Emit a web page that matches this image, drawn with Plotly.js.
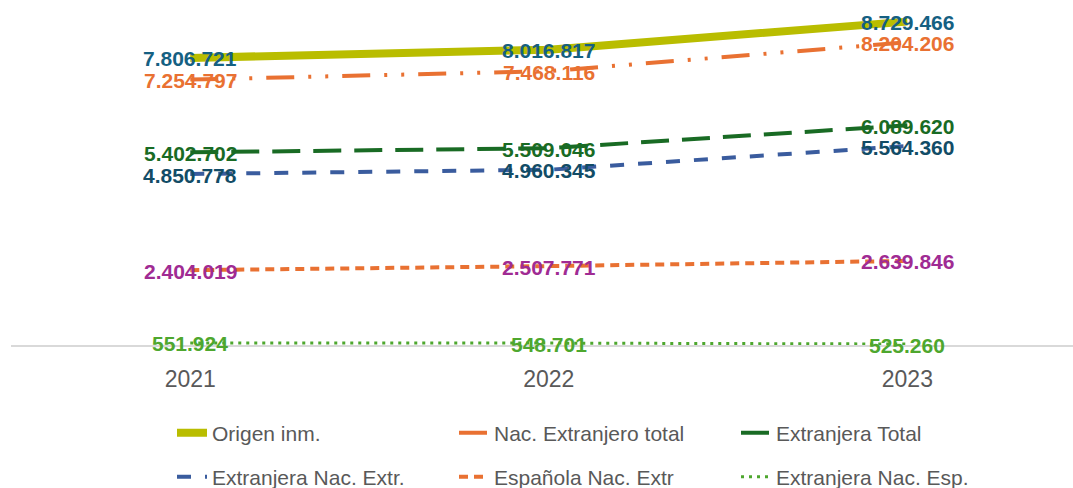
<!DOCTYPE html>
<html>
<head>
<meta charset="utf-8">
<script src="https://cdn.plot.ly/plotly-3.0.1.min.js"></script>
<style>html,body{margin:0;padding:0;background:#fff;}#chart{width:1073px;height:488px;}</style>
</head>
<body>
<div id="chart"></div>
<script>
// ---- data ----
const years = ['2021', '2022', '2023'];
const seriesNames = ['Origen inm.', 'Nac. Extranjero total', 'Extranjera Total',
                     'Extranjera Nac. Extr.', 'Española Nac. Extr', 'Extranjera Nac. Esp.'];
const origenInm = [7806721, 8016817, 8729466];
const nacExtranjeroTotal = [7254797, 7468116, 8204206];
const extranjeraTotal = [5402702, 5509046, 6089620];
const extranjeraNacExtr = [4850778, 4960345, 5564360];
const espanolaNacExtr = [2404019, 2507771, 2639846];
const extranjeraNacEsp = [551924, 548701, 525260];

// ---- styles ----
const xIdx = years.map((_, i) => i);
const styles = [
  {values: origenInm, line: {color: '#B9BD00', width: 8, dash: 'solid'}, label: '#156082', legend: 'legend'},
  {values: nacExtranjeroTotal, line: {color: '#E97132', width: 4, dash: '28px,14px,3px,14px,3px,14px'}, label: '#E97132', legend: 'legend'},
  {values: extranjeraTotal, line: {color: '#196B24', width: 4, dash: '28px,13px'}, label: '#196B24', legend: 'legend'},
  {values: extranjeraNacExtr, line: {color: '#3A5C9E', width: 4, dash: '14px,14px'}, label: '#124C66', legend: 'legend2'},
  {values: espanolaNacExtr, line: {color: '#E97132', width: 4, dash: '9px,6px'}, label: '#A02B93', legend: 'legend2'},
  {values: extranjeraNacEsp, line: {color: '#4EA72E', width: 3, dash: '3px,5px'}, label: '#4EA72E', legend: 'legend2'}
];

const fmt = v => String(Math.round(v)).replace(/\B(?=(\d{3})+(?!\d))/g, '.');

const traces = styles.map((s, i) => ({
  type: 'scatter',
  mode: 'lines',
  name: seriesNames[i],
  x: xIdx,
  y: s.values,
  line: s.line,
  hoverinfo: 'skip',
  legend: s.legend
}));

const annotations = [];
styles.forEach(s => {
  s.values.forEach((v, j) => {
    annotations.push({
      x: xIdx[j], y: v, xref: 'x', yref: 'y',
      text: fmt(v), showarrow: false,
      xanchor: 'center', yanchor: 'middle', yshift: -1,
      font: {family: 'Liberation Sans, Arial, sans-serif', size: 21, color: s.label, weight: 'bold'}
    });
  });
});

const legendCommon = {
  orientation: 'h',
  xref: 'container', yref: 'container',
  xanchor: 'left', yanchor: 'middle',
  entrywidth: 237, entrywidthmode: 'pixels',
  font: {family: 'Liberation Sans, Arial, sans-serif', size: 21, color: '#595959'},
  bgcolor: 'rgba(0,0,0,0)', borderwidth: 0,
  traceorder: 'normal'
};

const layout = {
  width: 1073, height: 488,
  margin: {l: 11, r: 0, t: 11, b: 143, pad: 0},
  paper_bgcolor: '#ffffff', plot_bgcolor: '#ffffff',
  showlegend: true,
  annotations: annotations,
  xaxis: {
    range: [-0.5, 2.462],
    tickmode: 'array', tickvals: xIdx, ticktext: years,
    tickfont: {family: 'Liberation Sans, Arial, sans-serif', size: 23, color: '#595959'},
    ticklabelstandoff: 12,
    showgrid: false, zeroline: false,
    showline: true, linecolor: '#D9D9D9', linewidth: 2,
    ticks: '', fixedrange: true
  },
  yaxis: {
    range: [500000, 9000000],
    visible: false, showgrid: false, zeroline: false, fixedrange: true
  },
  legend: Object.assign({}, legendCommon, {x: 172 / 1073, y: 1 - 433 / 488}),
  legend2: Object.assign({}, legendCommon, {x: 172 / 1073, y: 1 - 477 / 488})
};

Plotly.newPlot('chart', traces, layout, {displayModeBar: false, staticPlot: true});
</script>
</body>
</html>
